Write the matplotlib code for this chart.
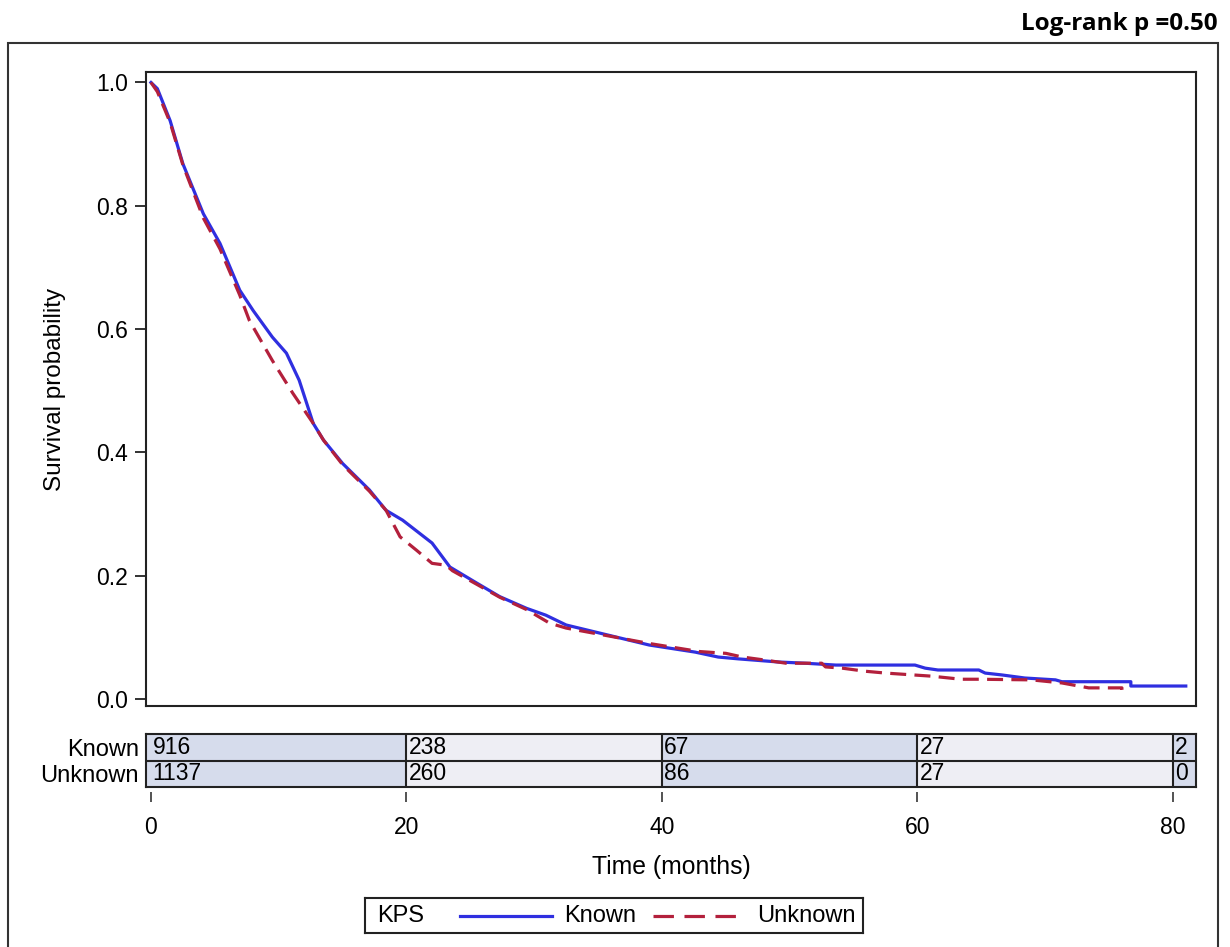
import matplotlib
matplotlib.use("Agg")
import matplotlib.pyplot as plt
from matplotlib.patches import Rectangle

plt.rcParams["font.family"] = ["Liberation Sans", "DejaVu Sans"]

# --- data ---
known_t = [0, 0.5, 1.5, 2.5, 4.1, 5.4, 6.95, 8.0, 9.5, 10.6, 11.6, 12.7, 13.5, 15.0,
           17.1, 18.4, 19.7, 22.0, 23.4, 25.5, 27.3, 29.4, 30.9, 32.5, 35.1, 39.0,
           42.6, 44.4, 46.0, 49.1, 51.2, 53.6, 59.8, 60.6, 61.6, 64.8, 65.3, 66.6,
           68.4, 70.8, 71.3, 76.7, 76.7, 81.0]
known_s = [1.0, 0.99, 0.938, 0.868, 0.787, 0.739, 0.663, 0.630, 0.587, 0.561, 0.517,
           0.447, 0.42, 0.382, 0.339, 0.306, 0.29, 0.253, 0.214, 0.188, 0.166, 0.147,
           0.136, 0.12, 0.107, 0.0875, 0.076, 0.068, 0.065, 0.060, 0.058, 0.055, 0.055,
           0.050, 0.047, 0.047, 0.042, 0.039, 0.034, 0.031, 0.028, 0.028, 0.021, 0.021]

unknown_t = [0, 0.5, 1.5, 2.5, 4.1, 5.4, 6.95, 7.7, 9.5, 11.1, 12.7, 13.5, 15.0, 17.1,
             18.4, 19.5, 20.8, 22.0, 23.1, 23.6, 25.5, 27.3, 29.4, 31.2, 32.5, 35.1,
             39.0, 42.9, 45.0, 46.3, 48.1, 49.7, 52.5, 52.8, 54.1, 55.9, 57.5, 61.1,
             63.4, 64.8, 68.9, 71.3, 73.4, 75.5, 76.0, 76.0]
unknown_s = [1.0, 0.985, 0.935, 0.866, 0.78, 0.73, 0.655, 0.614, 0.549, 0.496, 0.447,
             0.42, 0.38, 0.337, 0.306, 0.263, 0.241, 0.22, 0.217, 0.208, 0.186, 0.165,
             0.145, 0.123, 0.115, 0.105, 0.09, 0.077, 0.074, 0.068, 0.063, 0.058, 0.058,
             0.052, 0.05, 0.045, 0.042, 0.037, 0.032, 0.032, 0.031, 0.026, 0.018, 0.018,
             0.018, 0.002]

risk_times = [0, 20, 40, 60, 80]
risk_groups = ["Known", "Unknown"]
risk_known = [916, 238, 67, 27, 2]
risk_unknown = [1137, 260, 86, 27, 0]

BLUE = "#2f2fe0"
RED = "#b3203c"
CELL_A = "#d6dcec"
CELL_B = "#eeeef4"
EDGE = "#222222"
FS = 16.5

W, H = 1230, 947
XLIM = (-0.39, 81.8)


def px_rect(l, t, r, b):
    return [l / W, 1 - b / H, (r - l) / W, (b - t) / H]


fig = plt.figure(figsize=(12.3, 9.47), dpi=100)

# survival plot
ax = fig.add_axes(px_rect(146, 72, 1196, 706))
ax.plot(known_t, known_s, color=BLUE, lw=2.3)
ax.plot(unknown_t, unknown_s, color=RED, lw=2.3, dashes=(5, 2.6))
ax.set_xlim(*XLIM)
ax.set_ylim(-0.0114, 1.017)
ax.set_xticks([])
ax.set_yticks([0, 0.2, 0.4, 0.6, 0.8, 1.0])
ax.set_yticklabels(["0.0", "0.2", "0.4", "0.6", "0.8", "1.0"])
ax.tick_params(axis="y", direction="out", length=8, width=1.3, pad=5,
               labelsize=FS, color=EDGE)
ax.set_ylabel("Survival probability", fontsize=17.5, labelpad=22)
for sp in ax.spines.values():
    sp.set_linewidth(1.5)
    sp.set_color(EDGE)

# number at risk table
axt = fig.add_axes(px_rect(146, 734, 1196, 787))
axt.set_xlim(*XLIM)
axt.set_ylim(0, 2)
edges = [XLIM[0]] + risk_times[1:] + [XLIM[1]]
for i in range(len(risk_times)):
    axt.axvspan(edges[i], edges[i + 1], color=CELL_A if i % 2 == 0 else CELL_B, lw=0)
for t in risk_times[1:]:
    axt.axvline(t, color=EDGE, lw=1.5)
axt.axhline(1, color=EDGE, lw=1.5)
for i, t in enumerate(risk_times):
    x0 = t + 0.12 if t == 0 else t + 0.18
    axt.text(x0, 1.5, str(risk_known[i]), ha="left", va="center", fontsize=FS)
    axt.text(x0, 0.5, str(risk_unknown[i]), ha="left", va="center", fontsize=FS)
axt.set_xticks([])
axt.set_yticks([1.5, 0.5])
axt.set_yticklabels(risk_groups)
axt.tick_params(axis="y", length=0, pad=5, labelsize=17)
for sp in axt.spines.values():
    sp.set_linewidth(1.5)
    sp.set_color(EDGE)

# x ticks below the table
axx = fig.add_axes(px_rect(146, 791, 1196, 792))
axx.set_xlim(*XLIM)
axx.set_yticks([])
axx.set_xticks(risk_times)
axx.tick_params(axis="x", direction="out", length=7, width=1.3, pad=10,
                labelsize=FS, color="#444444")
for sp in axx.spines.values():
    sp.set_visible(False)
axx.patch.set_alpha(0)
axx.set_xlabel("Time (months)", fontsize=17.8, labelpad=12)

# legend box
axl = fig.add_axes(px_rect(365, 898, 863, 933))
axl.set_xlim(0, 498)
axl.set_ylim(0, 35)
axl.set_xticks([])
axl.set_yticks([])
for sp in axl.spines.values():
    sp.set_linewidth(1.5)
    sp.set_color(EDGE)
axl.text(12, 17, "KPS", ha="left", va="center", fontsize=17)
axl.plot([95, 187], [17.5, 17.5], color=BLUE, lw=2.3)
axl.text(199, 17, "Known", ha="left", va="center", fontsize=17)
axl.plot([288, 372], [17.5, 17.5], color=RED, lw=2.3, dashes=(6.4, 3.3))
axl.text(392, 17, "Unknown", ha="left", va="center", fontsize=17)

# outer frame
fig.add_artist(Rectangle((8 / W, -0.1), (1218 - 8) / W, 1 - 43 / H + 0.1,
                         transform=fig.transFigure, fill=False, lw=1.5, ec="#333333"))

fig.text(1218 / W, 1 - 24 / H, "Log-rank p =0.50", ha="right", va="center",
         fontsize=17.5, fontweight="bold", family=["Open Sans", "DejaVu Sans"])

fig.savefig("out.png", dpi=100)
plt.close(fig)
